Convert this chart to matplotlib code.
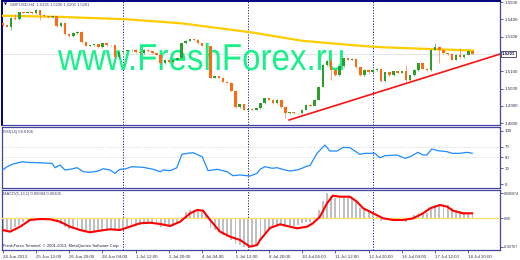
import matplotlib
matplotlib.use('Agg')
import matplotlib.pyplot as plt
from matplotlib.textpath import TextPath
from matplotlib.patches import PathPatch
from matplotlib.font_manager import FontProperties
from matplotlib.transforms import Affine2D, IdentityTransform

# GBPUSD H4 candles (close prices)
closes = [
    1.5367, 1.5356, 1.5408, 1.5402, 1.5442, 1.5439, 1.5442, 1.5436, 1.5454, 1.5425,
    1.5419, 1.5413, 1.5419, 1.5361, 1.5379, 1.5315, 1.5303, 1.5321, 1.5327, 1.5269,
    1.5246, 1.5251, 1.5257, 1.5240, 1.5263, 1.5251, 1.5249, 1.5182, 1.5211, 1.5217,
    1.5220, 1.5223, 1.5211, 1.5205, 1.5223, 1.5214, 1.5205, 1.5194, 1.5147, 1.5165,
    1.5153, 1.5165, 1.5176, 1.5263, 1.5275, 1.5286, 1.5283, 1.5263, 1.5246, 1.5243,
    1.5061, 1.5072, 1.5061, 1.5038, 1.5032, 1.4986, 1.4893, 1.4910, 1.4876, 1.4882,
    1.4876, 1.4887, 1.4916, 1.4945, 1.4934, 1.4916, 1.4934, 1.4893, 1.4858, 1.4864,
    1.4858, 1.4856, 1.4876, 1.4905, 1.4899, 1.4934, 1.5009, 1.5136, 1.5159, 1.5107,
    1.5078, 1.5130, 1.5176, 1.5165, 1.5171, 1.5124, 1.5078, 1.5107, 1.5095, 1.5107,
    1.5113, 1.5043, 1.5095, 1.5078, 1.5101, 1.5090, 1.5101, 1.5049, 1.5078, 1.5107,
    1.5147, 1.5113, 1.5107, 1.5223, 1.5240, 1.5223, 1.5205, 1.5199, 1.5165, 1.5194,
    1.5182, 1.5194, 1.5217, 1.5201]
first_open = 1.5379
opens = [first_open] + closes[:-1]
# long wicks: index -> (high, low)
wicks = {2: (None, 1.5338), 3: (1.5431, None), 9: (1.5454, 1.5396), 68: (None, 1.4829),
         79: (1.5176, 1.5049), 97: (1.5136, 1.5038), 104: (1.5263, None),
         105: (None, 1.5147), 110: (1.5234, None)}

ma_idx = [0, 14, 30, 43, 60, 72, 84, 90, 103, 113]
ma_val = [1.5421, 1.5414, 1.5400, 1.5377, 1.5324, 1.5276, 1.5251, 1.5240, 1.5228, 1.5220]

trend_idx = [68.9, 119.6]
trend_val = [1.4818, 1.5199]

last_price = 1.5201
price_ticks = [1.55, 1.54, 1.53, 1.51, 1.50, 1.49, 1.48]

rsi_idx = [0, 1.1, 2.3, 4.7, 5.9, 8.3, 11.9, 12.6, 13.8, 15, 16.2, 17.9, 19.4, 21, 23, 24.2,
           25.8, 27, 28.2, 29.4, 31.1, 33.8, 36.2, 37.9, 38.6, 40.3, 41.9, 43.1, 44.4, 45.8,
           48, 49.4, 51.6, 54, 55.4, 57.1, 59.5, 61.2, 61.9, 63.1, 64.8, 66, 67.9, 69.1,
           70.8, 72, 73.2, 73.9, 75.6, 77.5, 78.7, 80.4, 81.9, 83.5, 85.9, 87.1, 89.5, 90.7,
           91.9, 94.8, 96.8, 98, 99.9, 101.1, 102, 103.2, 104.7, 106.9, 108.1, 110, 111.7, 112.9]
rsi_val = [26.3, 32.5, 37, 41.8, 40.7, 40, 38.8, 30.6, 35.6, 26.3, 27.6, 30.6, 23.1, 21.9, 24.4,
           28.7, 26.3, 20.1, 27.6, 28.1, 32.5, 31.3, 27.6, 23.1, 26.3, 25, 30.6, 55.7, 57.6,
           58.7, 51.2, 25, 27.6, 23.1, 15.6, 16.9, 15, 20.1, 27.6, 32.5, 29.5, 30.6, 26.3,
           24.4, 26.3, 29.5, 33.8, 34.3, 57.6, 73.2, 61.9, 61.9, 68.8, 68.1, 55.7, 57.6, 57.6,
           49.3, 53.1, 54.4, 48.2, 51.2, 59.5, 54.4, 54.4, 65.7, 62.5, 60.6, 57.6, 57.6, 59.5, 57.6]
rsi_ticks = [100, 70, 50, 30, 0]
rsi_levels = [70, 50]

macd_hist = [
    -0.00364, -0.00364, -0.00318, -0.00237, -0.00182, -0.00101, -0.00073, -0.00060, -0.00046, -0.00046,
    -0.00046, -0.00046, -0.00060, -0.00101, -0.00155, -0.00237, -0.00291, -0.00291, -0.00318, -0.00345,
    -0.00373, -0.00373, -0.00364, -0.00359, -0.00332, -0.00318, -0.00318, -0.00345, -0.00318, -0.00264,
    -0.00223, -0.00209, -0.00196, -0.00182, -0.00141, -0.00128, -0.00128, -0.00155, -0.00237, -0.00209,
    -0.00223, -0.00196, -0.00155, 0.00035, 0.00171, 0.00226, 0.00226, 0.00199, 0.00171, 0.00117,
    -0.00264, -0.00318, -0.00373, -0.00454, -0.00509, -0.00590, -0.00699, -0.00726, -0.00767, -0.00767,
    -0.00753, -0.00699, -0.00590, -0.00400, -0.00264, -0.00209, -0.00182, -0.00182, -0.00209, -0.00237,
    -0.00209, -0.00182, -0.00128, -0.00101, -0.00087, 0.00035, 0.00226, 0.00471, 0.00675, 0.00607,
    0.00566, 0.00579, 0.00593, 0.00579, 0.00566, 0.00457, 0.00280, 0.00253, 0.00199, 0.00117,
    0.00049, -0.00073, -0.00019, -0.00046, -0.00033, -0.00033, -0.00046, -0.00087, -0.00033, 0.00090,
    0.00144, 0.00131, 0.00144, 0.00280, 0.00362, 0.00389, 0.00389, 0.00362, 0.00280, 0.00226,
    0.00199, 0.00171, 0.00144, 0.00131]
sig_idx = [0, 1.8, 4.2, 6.6, 9, 11.4, 13.8, 16.2, 18.6, 21, 23.4, 25.8, 28.2, 30.6, 33, 35.5,
           37.9, 40.3, 42.7, 45.1, 46.8, 48.2, 49.9, 52.3, 54.7, 57.1, 59.5, 61.2, 61.9, 64.3,
           66.7, 69.1, 70.8, 73.2, 74.6, 76.3, 78, 79.4, 81.1, 83.5, 85.2, 86.7, 89.1, 91.5,
           93.9, 96.3, 98.7, 101.1, 102.8, 105.2, 106.9, 108.3, 110.7, 112.9]
sig_val = [-0.00318, -0.00364, -0.00228, -0.00046, -0.00019, -0.00027, -0.00092, -0.00228,
           -0.00318, -0.00381, -0.00337, -0.00299, -0.00318, -0.00228, -0.00136, -0.00120,
           -0.00155, -0.00209, -0.00092, 0.00136, 0.00226, 0.00207, -0.00046, -0.00364,
           -0.00500, -0.00590, -0.00772, -0.00726, -0.00590, -0.00264, -0.00163, -0.00228,
           -0.00272, -0.00228, -0.00136, 0.00044, 0.00408, 0.00615, 0.00588, 0.00588, 0.00452,
           0.00272, 0.00136, 0.0, -0.00046, -0.00046, 0.0, 0.00136, 0.00272, 0.00362, 0.00316,
           0.00207, 0.00136, 0.00136]
macd_ticks = [0.006874, 0.0, -0.00767]
macd_labels = ['0.006874', '0.00', '-0.00767']

separators = [29, 59, 89]
time_idx = [0, 8, 16, 24, 32, 40, 48, 56, 64, 72, 80, 88, 96, 104, 112]
time_labels = ['24 Jun 2013', '25 Jun 12:00', '26 Jun 20:00', '28 Jun 04:00', '1 Jul 12:00',
               '2 Jul 20:00', '4 Jul 04:00', '5 Jul 12:00', '8 Jul 20:00', '10 Jul 04:00',
               '11 Jul 12:00', '12 Jul 20:00', '16 Jul 04:00', '17 Jul 12:00', '18 Jul 20:00']

plt.rcParams['font.family'] = ['Liberation Sans', 'DejaVu Sans']

W, H = 520, 260
fig = plt.figure(figsize=(W / 100, H / 100), dpi=100)


def rect(x0, y0, x1, y1):
    return [x0 / W, (H - y1) / H, (x1 - x0) / W, (y1 - y0) / H]


ax = fig.add_axes(rect(2, 1, 500, 125))
ax_rsi = fig.add_axes(rect(2, 127, 500, 188), sharex=ax)
ax_macd = fig.add_axes(rect(2, 190, 500, 250), sharex=ax)

frame = '#4646a0'
for a in (ax, ax_rsi, ax_macd):
    for s in a.spines.values():
        s.set_color(frame)
        s.set_linewidth(0.9)
    a.yaxis.tick_right()
    a.tick_params(axis='y', length=2, width=0.6, color=frame, labelsize=3.2,
                  labelcolor='#303050', pad=1.5)
    a.tick_params(axis='x', length=0)
    for s in separators:
        a.axvline(s, color='#1a1a8c', lw=0.7, ls=(0, (1.2, 1.6)), zorder=1)
ax.spines['left'].set_color('#000080')
ax.spines['top'].set_color('#000080')
ax.spines['left'].set_linewidth(1.4)
ax.spines['top'].set_linewidth(1.4)
plt.setp(ax.get_xticklabels(), visible=False)
plt.setp(ax_rsi.get_xticklabels(), visible=False)

# watermark, narrowed to the width it has in the terminal
wm = TextPath((0, 0), 'www.FreshForex.ru', size=37.5,
              prop=FontProperties(family='Liberation Sans'))
ext = wm.get_extents()
wm_tr = Affine2D().translate(-ext.x0, 0).scale(285 / ext.width, 1).translate(58, H - 70)
ax.add_patch(PathPatch(wm, transform=wm_tr + IdentityTransform(), fc='#18f08a',
                       lw=0, zorder=2))

# main price panel
n = len(closes)
idx = list(range(n))
ax.axhline(last_price, color='#e0e0e0', lw=0.6, zorder=1)
ax.plot(ma_idx, ma_val, color='#ffcc00', lw=1.6, zorder=3)
ax.plot(trend_idx, trend_val, color='#ff1010', lw=1.2, zorder=3)

up, down = '#2e9e2e', '#ff6a10'
for i in idx:
    o, c = opens[i], closes[i]
    hi, lo = max(o, c) + 0.0003, min(o, c) - 0.0003
    if i in wicks:
        hi = wicks[i][0] or hi
        lo = wicks[i][1] or lo
    col = up if c >= o else down
    ax.vlines(i, lo, hi, color=col, lw=0.6, alpha=0.7, zorder=4)
    ax.bar(i, max(abs(c - o), 0.00012), bottom=min(o, c), width=0.6, color=col,
           linewidth=0, zorder=5)

ax.set_ylim(1.4789, 1.5506)
ax.set_xlim(-0.15, 119.6)
ax.set_yticks(price_ticks)
ax.set_yticklabels(['%.4f' % p for p in price_ticks])
ax.text(1.004, last_price, '%.4f' % last_price, transform=ax.get_yaxis_transform(),
        fontsize=3.2, color='#101040', fontweight='bold', ha='left', va='center',
        bbox=dict(boxstyle='square,pad=0.25', fc='white', ec='#101040', lw=0.5))
ax.text(0.003, 0.985, '\u25bc', transform=ax.transAxes, fontsize=2.8, color='#000080',
        ha='left', va='top', family=['DejaVu Sans'])
ax.text(0.016, 0.988, 'GBPUSD,H4  1.5225 1.5230 1.5200 1.5201', transform=ax.transAxes,
        fontsize=3.0, color='#404070', ha='left', va='top')

# RSI panel
ax_rsi.plot(rsi_idx, rsi_val, color='#1e8cff', lw=0.9, zorder=3)
for lv in rsi_levels:
    ax_rsi.axhline(lv, color='#d0d0d0', lw=0.5, ls=(0, (2, 2)), zorder=1)
ax_rsi.set_ylim(-7.5, 107)
ax_rsi.set_yticks(rsi_ticks)
ax_rsi.set_yticklabels([str(t) for t in rsi_ticks])
ax_rsi.text(0.003, 0.92, 'RSI(14) 58.6106', transform=ax_rsi.transAxes, fontsize=3.0,
            color='#404070', ha='left', va='center')

# MACD panel
ax_macd.bar(idx, macd_hist, width=0.45, color='#c0c0c0', linewidth=0, zorder=2)
ax_macd.axhline(0, color='#ffdf60', lw=0.9, zorder=3)
ax_macd.plot(sig_idx, sig_val, color='#ff0000', lw=1.5, zorder=4)
ax_macd.set_ylim(-0.00862, 0.0077)
ax_macd.set_yticks(macd_ticks)
ax_macd.set_yticklabels(macd_labels)
ax_macd.tick_params(axis='y', labelsize=2.6, pad=1.0)
ax_macd.text(0.003, 0.93, 'MACD(5,13,1) 0.00094 0.00105', transform=ax_macd.transAxes,
             fontsize=3.0, color='#404070', ha='left', va='center')
ax_macd.text(0.003, 0.07, 'FreshForex Terminal, \u00a9 2001-2013, MetaQuotes Software Corp.',
             transform=ax_macd.transAxes, fontsize=3.0, color='#202050', ha='left', va='center')
ax_macd.set_xticks(time_idx)
ax_macd.set_xticklabels(time_labels, ha='left')
ax_macd.tick_params(axis='x', length=2.5, width=0.6, color=frame, labelsize=3.2,
                    labelcolor='#303050', pad=0.8)

fig.savefig('out.png', dpi=100, facecolor='white')
